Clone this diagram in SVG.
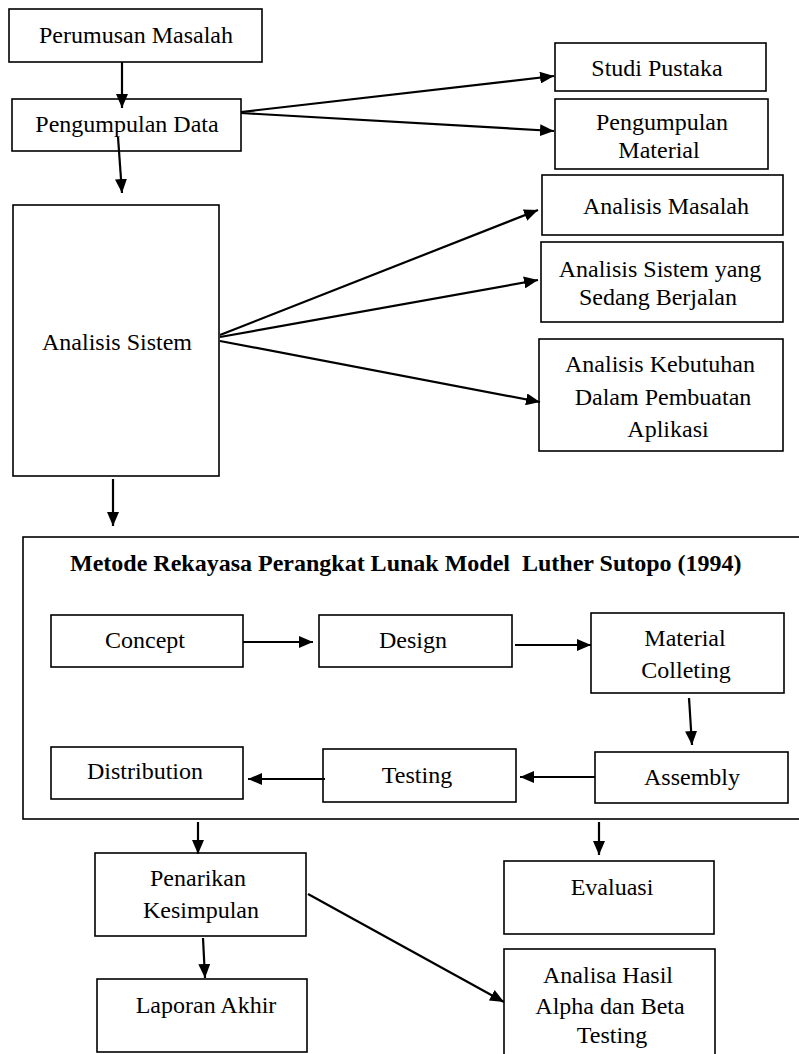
<svg xmlns="http://www.w3.org/2000/svg" width="799" height="1054" viewBox="0 0 799 1054">
<style>
.box{fill:#fff;stroke:#000;stroke-width:1.6}
.t{font-family:'Liberation Serif',Tinos,'Times New Roman',Times,serif;font-size:24px;fill:#000;text-anchor:middle}
.b{font-weight:bold;text-anchor:start;white-space:pre}
.c{fill:none;stroke:#000;stroke-width:2.2}
</style>
<defs>
<marker id="ah" markerUnits="userSpaceOnUse" markerWidth="15" markerHeight="12" refX="14" refY="6" orient="auto">
<path d="M0,0 L14,6 L0,12 z" fill="#000"/>
</marker>
</defs>
<rect width="799" height="1054" fill="#fff"/>

<g font-family="Liberation Serif, serif">
<g id="n-metode">
<rect class="box" x="23" y="537" width="785" height="282"/>
<text class="t b" x="70" y="571" xml:space="preserve">Metode Rekayasa Perangkat Lunak Model  Luther Sutopo (1994)</text>
</g>

<g id="n-perumusan"><rect class="box" x="9" y="9" width="253" height="53"/><text class="t" x="136" y="43">Perumusan Masalah</text></g>
<g id="n-pengumpulan"><rect class="box" x="12" y="99" width="229" height="52"/><text class="t" x="127" y="132">Pengumpulan Data</text></g>
<g id="n-studi"><rect class="box" x="555" y="43" width="211" height="48"/><text class="t" x="657" y="76">Studi Pustaka</text></g>
<g id="n-material"><rect class="box" x="555" y="99" width="213" height="70"/><text class="t"><tspan x="662" y="130">Pengumpulan</tspan><tspan x="659" y="158">Material</tspan></text></g>
<g id="n-analisis"><rect class="box" x="13" y="205" width="206" height="271"/><text class="t" x="117" y="350">Analisis Sistem</text></g>
<g id="n-masalah"><rect class="box" x="542" y="175" width="241" height="60"/><text class="t" x="666" y="214">Analisis Masalah</text></g>
<g id="n-berjalan"><rect class="box" x="541" y="242" width="242" height="80"/><text class="t"><tspan x="660" y="277">Analisis Sistem yang</tspan><tspan x="658" y="305">Sedang Berjalan</tspan></text></g>
<g id="n-kebutuhan"><rect class="box" x="539" y="339" width="244" height="112"/><text class="t"><tspan x="660" y="372">Analisis Kebutuhan</tspan><tspan x="663" y="405">Dalam Pembuatan</tspan><tspan x="668" y="437">Aplikasi</tspan></text></g>

<g id="n-concept"><rect class="box" x="51" y="615" width="192" height="52"/><text class="t" x="145" y="648">Concept</text></g>
<g id="n-design"><rect class="box" x="319" y="615" width="193" height="52"/><text class="t" x="413" y="648">Design</text></g>
<g id="n-colleting"><rect class="box" x="591" y="613" width="193" height="80"/><text class="t"><tspan x="685" y="646">Material</tspan><tspan x="686" y="678">Colleting</tspan></text></g>
<g id="n-assembly"><rect class="box" x="595" y="752" width="193" height="51"/><text class="t" x="692" y="785">Assembly</text></g>
<g id="n-testing"><rect class="box" x="323" y="749" width="193" height="53"/><text class="t" x="417" y="783">Testing</text></g>
<g id="n-distribution"><rect class="box" x="51" y="747" width="192" height="52"/><text class="t" x="145" y="779">Distribution</text></g>

<g id="n-penarikan"><rect class="box" x="95" y="853" width="211" height="83"/><text class="t"><tspan x="198" y="886">Penarikan</tspan><tspan x="201" y="918">Kesimpulan</tspan></text></g>
<g id="n-laporan"><rect class="box" x="97" y="979" width="210" height="73"/><text class="t" x="206" y="1013">Laporan Akhir</text></g>
<g id="n-evaluasi"><rect class="box" x="504" y="861" width="210" height="73"/><text class="t" x="612" y="895">Evaluasi</text></g>
<g id="n-analisa"><rect class="box" x="504" y="949" width="211" height="120"/><text class="t"><tspan x="608" y="983">Analisa Hasil</tspan><tspan x="610" y="1014">Alpha dan Beta</tspan><tspan x="612" y="1043">Testing</tspan></text></g>
</g>

<g id="connectors" class="c" marker-end="url(#ah)">
<line x1="122" y1="62" x2="122" y2="108"/>
<line x1="118" y1="137" x2="122" y2="193"/>
<line x1="241" y1="112" x2="554" y2="76"/>
<line x1="241" y1="113" x2="554" y2="131"/>
<line x1="220" y1="335" x2="538" y2="210"/>
<line x1="220" y1="337" x2="538" y2="280"/>
<line x1="220" y1="341" x2="540" y2="402"/>
<line x1="113" y1="479" x2="113" y2="526"/>
<line x1="243" y1="642" x2="313" y2="642"/>
<line x1="515" y1="645" x2="591" y2="645"/>
<line x1="689" y1="698" x2="692" y2="745"/>
<line x1="595" y1="777" x2="520" y2="777"/>
<line x1="325" y1="779" x2="248" y2="779"/>
<line x1="198" y1="822" x2="198" y2="854"/>
<line x1="599" y1="822" x2="599" y2="855"/>
<line x1="203" y1="938" x2="205" y2="978"/>
<line x1="308" y1="894" x2="504" y2="1002"/>
</g>
</svg>
